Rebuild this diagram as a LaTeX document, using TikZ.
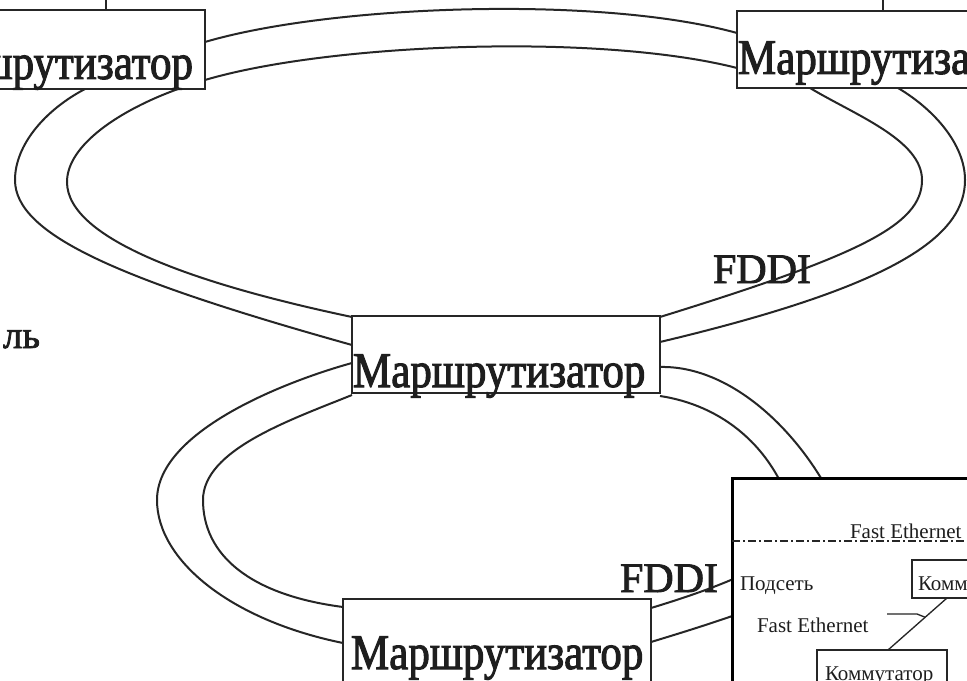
\documentclass[tikz,border=0pt]{standalone}
\usepackage{fontspec}
\setmainfont{Liberation Serif}
\newfontfamily\rfont[FakeStretch=0.86,FakeBold=2]{Liberation Serif}
\newfontfamily\ffont[FakeBold=2]{Liberation Serif}
\usetikzlibrary{calc}
\definecolor{linec}{HTML}{262626}
\definecolor{txtc}{HTML}{1E1E1E}
\begin{document}
\begin{tikzpicture}[x=0.75pt,y=-0.75pt,
  router/.style={draw=linec, line width=1.5pt, minimum width=231pt, inner sep=0pt, outer sep=0pt},
  ring/.style={draw=linec, line width=1.5pt},
  rtxt/.style={font=\rfont\fontsize{37.5pt}{40pt}\selectfont, text=txtc, inner sep=0pt, outer sep=0pt},
  fddi/.style={font=\ffont\fontsize{31.5pt}{34pt}\selectfont, text=txtc, inner sep=0pt, outer sep=0pt},
  lbl/.style={font=\ffont\fontsize{29pt}{31pt}\selectfont, text=txtc, inner sep=0pt, outer sep=0pt},
  small/.style={font=\fontsize{15.75pt}{17pt}\selectfont, text=txtc, inner sep=0pt, outer sep=0pt},
  kbox/.style={draw=linec, line width=1.1pt, inner sep=0pt, outer sep=0pt},
  thinline/.style={draw=linec, line width=1pt},
  dashdotline/.style={draw=linec, line width=1.1pt, dash pattern=on 6pt off 2.25pt on 1.5pt off 2.25pt}]
\useasboundingbox (0,0) rectangle (967,681);
\clip (0,0) rectangle (967,681);
\fill[white] (0,0) rectangle (967,681);

% routers
\node[router, minimum height=59.25pt] (r1) at (51,49.5) {};
\node[router, minimum height=57.75pt] (r3) at (891,49.5) {};
\node[router, minimum height=57.75pt] (r2) at (506,354.5) {};
\node[router, minimum height=64.5pt] (r4) at (497,642) {};

\node[rtxt, anchor=base east] (t1) at ($(r1.south east)+(-12,-10)$) {Маршрутизатор};
\node[rtxt, anchor=base west] (t3) at ($(r3.south west)+(1,-14)$) {Маршрутизатор};
\node[rtxt, anchor=base west] (t2) at ($(r2.south west)+(1,-6)$) {Маршрутизатор};
\node[rtxt, anchor=base west] (t4) at ($(r4.north west)+(8,70)$) {Маршрутизатор};

% uplinks
\coordinate (u1) at (106,-3);
\coordinate (u3) at (883,-3);
\draw[ring] ($(r1.north west)+(209,0)$) -- (u1);
\draw[ring] ($(r3.north west)+(146,0)$) -- (u3);

% upper FDDI ring
\draw[ring] ($(r1.north east)+(0,32)$) .. controls (330,5) and (600,-5) .. ($(r3.north west)+(0,22)$);
\draw[ring] ($(r1.north east)+(0,70)$) .. controls (330,43) and (600,33) .. ($(r3.north west)+(0,57)$);
\draw[ring] ($(r1.south west)+(188,0)$) .. controls (45,110) and (15,145) .. (15,180)
   .. controls (15,235) and (120,280) .. ($(r2.north west)+(0,29)$);
\draw[ring] ($(r1.south west)+(281,0)$) .. controls (120,110) and (67,145) .. (67,182)
   .. controls (67,240) and (200,285) .. ($(r2.north west)+(0,1)$);
\draw[ring] ($(r3.south west)+(73,0)$) .. controls (855,115) and (922,140) .. (922,180)
   .. controls (922,225) and (860,255) .. ($(r2.north east)+(0,1)$);
\draw[ring] ($(r3.south west)+(161,0)$) .. controls (935,110) and (965,145) .. (965,180)
   .. controls (965,235) and (900,285) .. ($(r2.north east)+(0,26)$);

% lower FDDI ring
\draw[ring] ($(r2.north west)+(0,47)$) .. controls (290,380) and (157,430) .. (157,500)
   .. controls (157,560) and (230,620) .. ($(r4.north west)+(0,44)$);
\draw[ring] ($(r2.south west)+(0,2)$) .. controls (290,420) and (203,450) .. (203,500)
   .. controls (203,555) and (250,595) .. ($(r4.north west)+(0,8)$);
\draw[ring] ($(r2.north east)+(0,51)$) .. controls (740,365) and (820,450) .. (850,540)
   .. controls (862,576) and (740,615) .. ($(r4.north east)+(0,43)$);
\draw[ring] ($(r2.south east)+(0,3)$) .. controls (720,405) and (775,445) .. (795,520)
   .. controls (802,548) and (760,575) .. ($(r4.north east)+(0,9)$);

% labels
\node[fddi, anchor=base west] (f1) at (713,283) {FDDI};
\node[fddi, anchor=base west] (f2) at (620,592) {FDDI};
\node[lbl, anchor=base east] (l1) at (40,348) {ль};

% inset
\node[draw=black, line width=2.25pt, fill=white, minimum width=201pt, minimum height=181.5pt, inner sep=0pt, outer sep=0pt] (ins) at (866,599) {};
\draw[dashdotline] ($(ins.north west)+(0,63)$) -- ($(ins.north east)+(0,63)$);
\node[small, anchor=base west] (fe1) at (850,538) {Fast Ethernet};
\node[small, anchor=base west] (ps) at (740,590) {Подсеть};
\node[kbox, minimum width=73.5pt, minimum height=28.5pt] (k1) at (961,579) {};
\node[small, anchor=base west] (k1t) at ($(k1.north west)+(6,30)$) {Коммутатор};
\node[kbox, minimum width=97.5pt, minimum height=37.5pt] (k2) at (882,675) {};
\node[small, anchor=base west] (k2t) at ($(k2.north west)+(8,30)$) {Коммутатор};
\node[small, anchor=base west] (fe2) at (757,632) {Fast Ethernet};
\coordinate (d1) at ($(k1.south west)+(35,0)$);
\coordinate (d2) at ($(k2.north west)+(71,0)$);
\draw[thinline] (d1) -- (d2);
\coordinate (lead) at (887,614);
\draw[thinline] (lead) -- (917,614) -- ($(d1)!0.37!(d2)$);
\end{tikzpicture}
\end{document}
